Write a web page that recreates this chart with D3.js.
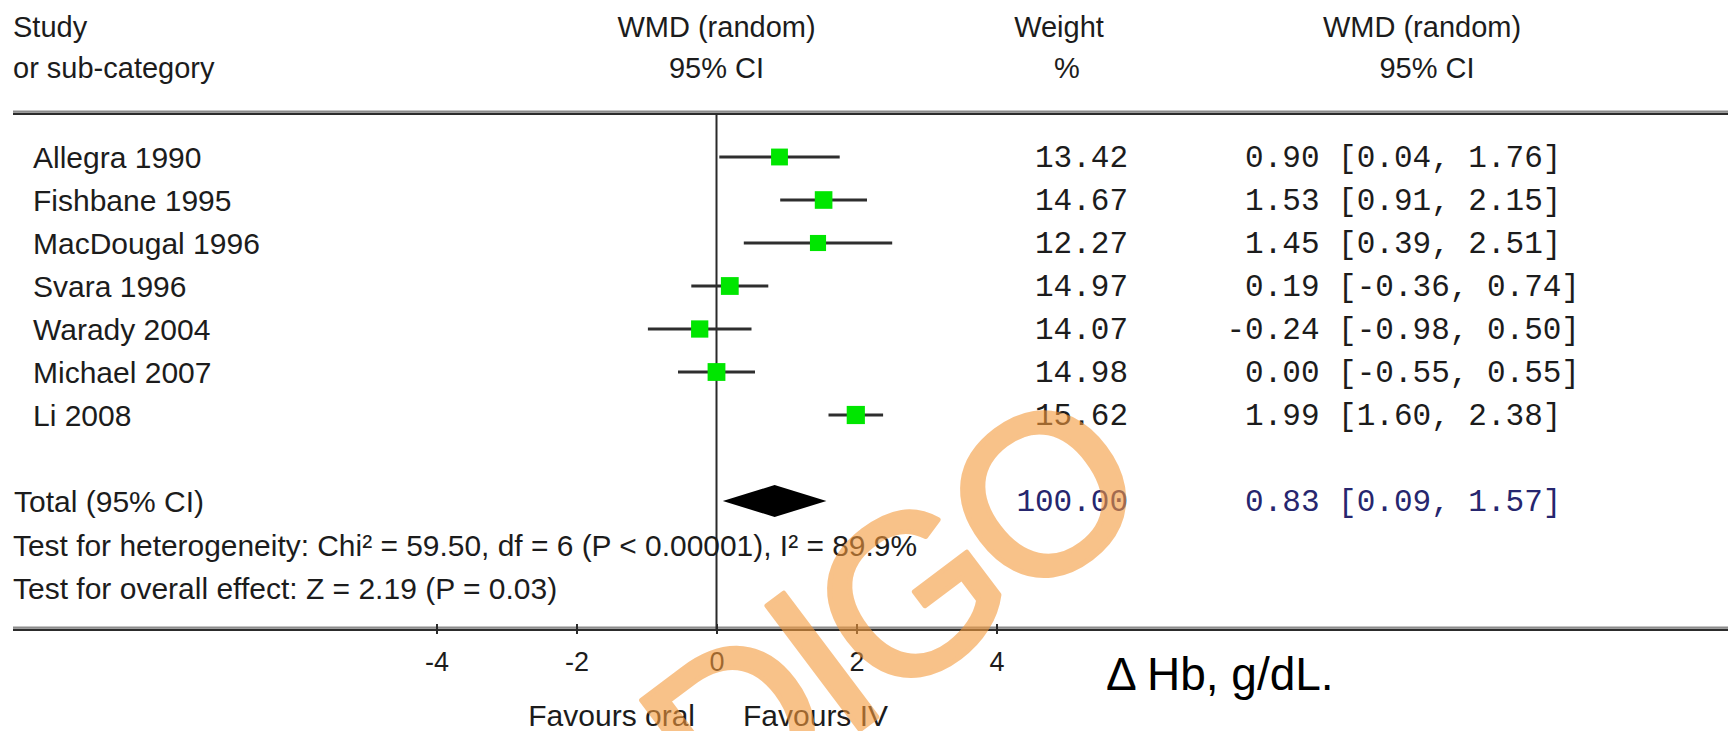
<!DOCTYPE html>
<html>
<head>
<meta charset="utf-8">
<script src="https://cdn.jsdelivr.net/npm/d3@7"></script>
<style>
  html, body { margin: 0; padding: 0; background: #fff; }
  svg { display: block; }
  .sans { font-family: "Liberation Sans", Arial, sans-serif; fill: #1c1c1c; }
  .mono { font-family: "Liberation Mono", "Courier New", monospace; fill: #1c1c1c; white-space: pre; }
</style>
</head>
<body>
<svg id="chart" width="1728" height="731"></svg>
<script>
// ---------------- data ----------------
const studies  = ["Allegra 1990", "Fishbane 1995", "MacDougal 1996", "Svara 1996", "Warady 2004", "Michael 2007", "Li 2008"];
const means    = [0.90, 1.53, 1.45, 0.19, -0.24, 0.00, 1.99];
const lowers   = [0.04, 0.91, 0.39, -0.36, -0.98, -0.55, 1.60];
const uppers   = [1.76, 2.15, 2.51, 0.74, 0.50, 0.55, 2.38];
const weights  = [13.42, 14.67, 12.27, 14.97, 14.07, 14.98, 15.62];
const total    = { label: "Total (95% CI)", mean: 0.83, lower: 0.09, upper: 1.57, weight: 100.00 };
const tickValues = [-4, -2, 0, 2, 4];
const headerLeft  = ["Study", "or sub-category"];
const headerPlot  = ["WMD (random)", "95% CI"];
const headerWeight = ["Weight", "%"];
const headerCI    = ["WMD (random)", "95% CI"];
const heterogeneityText = "Test for heterogeneity: Chi\u00B2 = 59.50, df = 6 (P < 0.00001), I\u00B2 = 89.9%";
const overallText = "Test for overall effect: Z = 2.19 (P = 0.03)";
const favourLeft = "Favours oral";
const favourRight = "Favours IV";
const unitLabel = "\u0394 Hb, g/dL.";
const watermark = "DIGO";

// ---------------- layout ----------------
const svg = d3.select("#chart");
const x = d3.scaleLinear().domain([-4, 4]).range([436.5, 996.5]);
const y = d3.scalePoint().domain(studies).range([157, 415]);
const totalY = 501;
const topRuleY = 113;
const axisY = 629;

const locale = d3.formatLocale({ decimal: ".", thousands: ",", grouping: [3], currency: ["", ""], minus: "-" });
const fmt = locale.format(".2f");
const pad = (s, n) => " ".repeat(Math.max(0, n - s.length)) + s;
const ciString = (m, l, u) => pad(fmt(m), 5) + " [" + fmt(l) + ", " + fmt(u) + "]";

// double rules
function doubleRule(yy) {
  svg.append("line").attr("x1", 13).attr("x2", 1728).attr("y1", yy - 1.6).attr("y2", yy - 1.6)
    .attr("stroke", "#8c8c8c").attr("stroke-width", 2);
  svg.append("line").attr("x1", 13).attr("x2", 1728).attr("y1", yy + 0.9).attr("y2", yy + 0.9)
    .attr("stroke", "#2c2c2c").attr("stroke-width", 2.4);
}
doubleRule(topRuleY);
doubleRule(axisY);

// headers
const hdrBase = [37, 78];
headerLeft.forEach((t, i) => svg.append("text").attr("class", "sans").attr("x", 13).attr("y", hdrBase[i])
  .attr("font-size", 29).text(t));
headerPlot.forEach((t, i) => svg.append("text").attr("class", "sans").attr("x", x(0)).attr("y", hdrBase[i])
  .attr("text-anchor", "middle").attr("font-size", 29).text(t));
const weightX = [1059, 1067];
headerWeight.forEach((t, i) => svg.append("text").attr("class", "sans").attr("x", weightX[i]).attr("y", hdrBase[i])
  .attr("text-anchor", "middle").attr("font-size", 29).text(t));
const ciHdrX = [1422, 1427];
headerCI.forEach((t, i) => svg.append("text").attr("class", "sans").attr("x", ciHdrX[i]).attr("y", hdrBase[i])
  .attr("text-anchor", "middle").attr("font-size", 29).text(t));

// zero line
svg.append("line").attr("x1", x(0)).attr("x2", x(0)).attr("y1", topRuleY).attr("y2", axisY)
  .attr("stroke", "#2a2a2a").attr("stroke-width", 2);

// study rows
const rows = studies.map((s, i) => ({ s, m: means[i], l: lowers[i], u: uppers[i], w: weights[i] }));
const g = svg.append("g");
g.selectAll("text.study").data(rows).join("text").attr("class", "sans study")
  .attr("x", 33).attr("y", d => y(d.s) + 10.5).attr("font-size", 30).text(d => d.s);
g.selectAll("line.ci").data(rows).join("line").attr("class", "ci")
  .attr("x1", d => x(d.l)).attr("x2", d => x(d.u)).attr("y1", d => y(d.s)).attr("y2", d => y(d.s))
  .attr("stroke", "#2e2e2e").attr("stroke-width", 3);
const side = d => 4.6 * Math.sqrt(d.w);
g.selectAll("rect.box").data(rows).join("rect").attr("class", "box")
  .attr("x", d => x(d.m) - side(d) / 2).attr("y", d => y(d.s) - side(d) / 2)
  .attr("width", side).attr("height", side).attr("fill", "#00e600");
g.selectAll("text.wt").data(rows).join("text").attr("class", "mono wt")
  .attr("x", 1128).attr("y", d => y(d.s) + 10).attr("text-anchor", "end").attr("font-size", 31)
  .text(d => fmt(d.w));
g.selectAll("text.ci").data(rows).join("text").attr("class", "mono citxt")
  .attr("x", 1226.5).attr("y", d => y(d.s) + 10).attr("font-size", 31)
  .text(d => ciString(d.m, d.l, d.u));

// total
svg.append("text").attr("class", "sans").attr("x", 14).attr("y", totalY + 10.5).attr("font-size", 30).text(total.label);
const dh = 16;
svg.append("path").attr("fill", "#000")
  .attr("d", d3.line()([[x(total.lower), totalY], [x(total.mean), totalY - dh], [x(total.upper), totalY], [x(total.mean), totalY + dh]]) + "Z");
svg.append("text").attr("class", "mono").attr("x", 1128).attr("y", totalY + 10).attr("text-anchor", "end")
  .attr("font-size", 31).style("fill", "#26266e").text(fmt(total.weight));
svg.append("text").attr("class", "mono").attr("x", 1226.5).attr("y", totalY + 10)
  .attr("font-size", 31).style("fill", "#26266e").text(ciString(total.mean, total.lower, total.upper));

svg.append("text").attr("class", "sans").attr("x", 13).attr("y", 556).attr("font-size", 30)
  .attr("textLength", 904).attr("lengthAdjust", "spacingAndGlyphs").text(heterogeneityText);
svg.append("text").attr("class", "sans").attr("x", 13).attr("y", 599).attr("font-size", 30).text(overallText);

// axis
const axis = d3.axisBottom(x).tickValues(tickValues).tickSize(5).tickFormat(locale.format("d"));
const ax = svg.append("g").attr("transform", `translate(0,${axisY})`).call(axis);
ax.select(".domain").remove();
ax.selectAll(".tick line").attr("y1", -5).attr("y2", 5).attr("stroke", "#2a2a2a").attr("stroke-width", 2);
ax.selectAll(".tick text").attr("y", 42).attr("dy", 0).attr("font-size", 27)
  .attr("font-family", "Liberation Sans, Arial, sans-serif").attr("fill", "#1c1c1c");

svg.append("text").attr("class", "sans").attr("x", 695).attr("y", 726).attr("text-anchor", "end").attr("font-size", 30).text(favourLeft);
svg.append("text").attr("class", "sans").attr("x", 743).attr("y", 726).attr("font-size", 30).text(favourRight);

svg.append("text").attr("x", 1106).attr("y", 690).attr("font-size", 46)
  .attr("font-family", "Liberation Sans, Arial, sans-serif").attr("fill", "#000").text(unitLabel);

// watermark
svg.append("g").attr("opacity", 0.6)
  .append("text").attr("transform", "translate(720,835) rotate(-37)")
  .attr("font-size", 225).attr("letter-spacing", -8).attr("font-family", "Liberation Sans, Arial, sans-serif")
  .attr("fill", "#f59a3c").attr("stroke", "#f59a3c").attr("stroke-width", 5)
  .attr("stroke-linejoin", "round").text(watermark);
</script>
</body>
</html>
